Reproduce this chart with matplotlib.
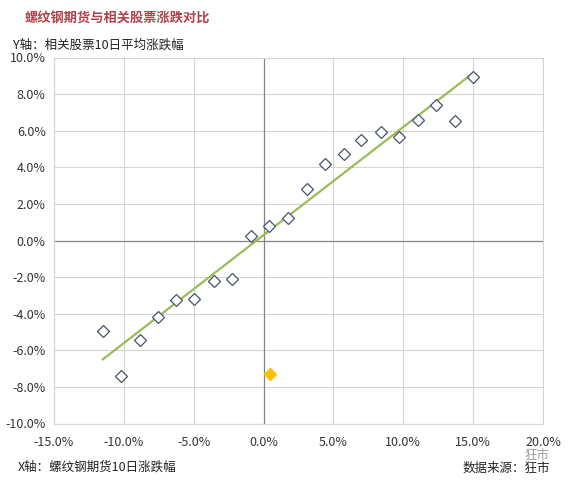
import numpy as np
import matplotlib
matplotlib.use('Agg')
import matplotlib.pyplot as plt
from matplotlib.ticker import FuncFormatter

plt.rcParams['font.family'] = ['Noto Sans CJK SC', 'DejaVu Sans']

# X: rebar futures 10-day change (%), Y: related stocks 10-day avg change (%)
futures_chg = [-11.5, -10.2, -8.85, -7.55, -6.25, -4.95, -3.55, -2.25, -0.9, 0.4,
               1.75, 3.1, 4.4, 5.75, 7.0, 8.4, 9.7, 11.05, 12.35, 13.7, 15.0]
stocks_chg = [-4.95, -7.4, -5.45, -4.2, -3.25, -3.2, -2.2, -2.1, 0.25, 0.8,
              1.25, 2.8, 4.2, 4.7, 5.5, 5.95, 5.65, 6.6, 7.4, 6.55, 8.95]

# current point (highlighted)
current_x = [0.45]
current_y = [-7.3]

x_ticks = [-15, -10, -5, 0, 5, 10, 15, 20]
y_ticks = [-10, -8, -6, -4, -2, 0, 2, 4, 6, 8, 10]

fig = plt.figure(figsize=(5.69, 4.82), dpi=100)
ax = fig.add_axes([54 / 569, 1 - 423.5 / 482, (543 - 54) / 569, (423.5 - 57.5) / 482])

ax.set_xlim(-15, 20)
ax.set_ylim(-10, 10)
ax.set_xticks(x_ticks)
ax.set_yticks(y_ticks)
ax.grid(True, color='#d4d4d4', linewidth=0.8)
ax.set_axisbelow(True)
ax.axhline(0, color='#868686', linewidth=0.9, zorder=1)
ax.axvline(0, color='#868686', linewidth=0.9, zorder=1)
for s in ax.spines.values():
    s.set_color('#d4d4d4')
    s.set_linewidth(0.8)

pct = FuncFormatter(lambda v, p: '%.1f%%' % v)
ax.xaxis.set_major_formatter(pct)
ax.yaxis.set_major_formatter(pct)
ax.tick_params(length=0, labelsize=9, colors='#333333')
ax.tick_params(axis='x', pad=9)
ax.tick_params(axis='y', pad=6)

# linear trendline over the hollow points
k, b = np.polyfit(futures_chg, stocks_chg, 1)
tx = np.array([min(futures_chg), max(futures_chg)])
ax.plot(tx, k * tx + b, color='#9bbb59', linewidth=1.6, zorder=2)

ax.plot(futures_chg, stocks_chg, linestyle='none', marker='D', markersize=6.5,
        markerfacecolor='white', markeredgecolor='#44546a', markeredgewidth=0.9, zorder=3)
ax.plot(current_x, current_y, linestyle='none', marker='D', markersize=6.5,
        markerfacecolor='#ffc000', markeredgecolor='#ffc000', zorder=4)

fig.text(25 / 569, 1 - 18 / 482, '螺纹钢期货与相关股票涨跌对比', fontsize=9.5,
         fontweight='bold', color='#b0444a', va='center', ha='left')
fig.text(13 / 569, 1 - 45 / 482, 'Y轴：相关股票10日平均涨跌幅', fontsize=9,
         color='#222222', va='center', ha='left')
fig.text(18 / 569, 1 - 467 / 482, 'X轴：螺纹钢期货10日涨跌幅', fontsize=9,
         color='#222222', va='center', ha='left')
fig.text(550 / 569, 1 - 468 / 482, '数据来源：狂市', fontsize=9,
         color='#222222', va='center', ha='right')
fig.text(537 / 569, 1 - 455 / 482, '狂市', fontsize=9,
         color='#9a9a9a', va='center', ha='center')

fig.savefig('out.png', dpi=100)
